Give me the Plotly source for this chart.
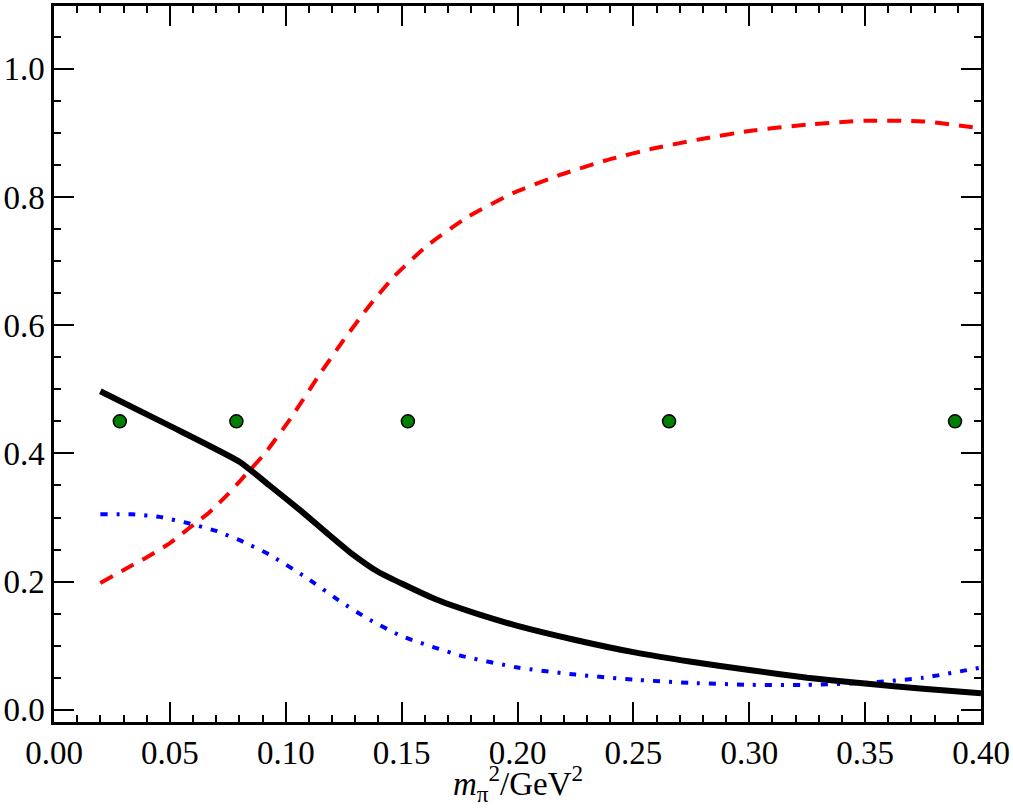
import plotly.graph_objects as go

x_black = [0.02, 0.05, 0.08, 0.093, 0.1067, 0.118, 0.128, 0.14, 0.15, 0.165, 0.184, 0.20, 0.225, 0.25, 0.275, 0.30, 0.325, 0.35, 0.375, 0.40]
y_black = [0.497, 0.443, 0.387, 0.35, 0.31, 0.275, 0.245, 0.215, 0.197, 0.172, 0.148, 0.131, 0.109, 0.09, 0.075, 0.062, 0.05, 0.041, 0.033, 0.026]

x_red = [0.02, 0.031, 0.041, 0.05, 0.0585, 0.0667, 0.075, 0.081, 0.091, 0.102, 0.114, 0.125, 0.136, 0.147, 0.161, 0.179, 0.198, 0.218, 0.239, 0.259, 0.28, 0.30, 0.325, 0.35, 0.375, 0.40]
y_red = [0.198, 0.22, 0.24, 0.26, 0.284, 0.307, 0.336, 0.36, 0.40, 0.454, 0.52, 0.577, 0.63, 0.677, 0.724, 0.77, 0.806, 0.834, 0.858, 0.876, 0.891, 0.903, 0.913, 0.919, 0.918, 0.907]

x_blue = [0.02, 0.0335, 0.0456, 0.058, 0.07, 0.0817, 0.093, 0.109, 0.124, 0.135, 0.15, 0.175, 0.20, 0.225, 0.25, 0.275, 0.30, 0.325, 0.35, 0.375, 0.40]
y_blue = [0.305, 0.305, 0.301, 0.291, 0.279, 0.262, 0.242, 0.206, 0.168, 0.143, 0.115, 0.085, 0.066, 0.055, 0.047, 0.042, 0.039, 0.039, 0.042, 0.05, 0.066]

x_pts = [0.0284, 0.0787, 0.1527, 0.2654, 0.3888]
y_pts = [0.45, 0.45, 0.45, 0.45, 0.45]

x_title = "<i>m</i><sub>π</sub><sup>2</sup>/GeV<sup>2</sup>"

fig = go.Figure()
fig.add_trace(go.Scatter(x=x_red, y=y_red, mode="lines", line=dict(color="#ff0000", width=4, dash="14px,10px", shape="spline", smoothing=0.5), showlegend=False))
fig.add_trace(go.Scatter(x=x_blue, y=y_blue, mode="lines", line=dict(color="#0000ff", width=4, dash="7px,9px,3px,9px", shape="spline", smoothing=0.5), showlegend=False))
fig.add_trace(go.Scatter(x=x_black, y=y_black, mode="lines", line=dict(color="black", width=6, shape="spline", smoothing=0.5), showlegend=False))
fig.add_trace(go.Scatter(x=x_pts, y=y_pts, mode="markers", marker=dict(color="#008000", size=13, line=dict(color="black", width=1.5)), showlegend=False))

font = dict(family="Liberation Serif, DejaVu Serif, serif", size=33, color="black")
title_font = dict(family="Liberation Serif, DejaVu Serif, serif", size=33, color="black")
axis_common = dict(showgrid=False, zeroline=False, showline=True, linecolor="black", linewidth=2.5,
                   mirror="allticks", ticks="inside", tickcolor="black", tickwidth=2, ticklen=20,
                   tickfont=font)
fig.update_xaxes(range=[0, 0.40], dtick=0.05, tick0=0, tickformat=".2f",
                 minor=dict(dtick=0.01, ticklen=7, tickwidth=2, tickcolor="black", ticks="inside"),
                 **axis_common)
fig.update_yaxes(range=[-0.019, 1.098], dtick=0.2, tick0=0, tickformat=".1f",
                 minor=dict(dtick=0.05, ticklen=7, tickwidth=2, tickcolor="black", ticks="inside"),
                 **axis_common)
fig.add_annotation(text=x_title, xref="paper", yref="paper", x=0.5, y=-87 / 719, xanchor="center",
                   yanchor="bottom", showarrow=False, font=title_font)
fig.update_layout(width=1013, height=811, margin=dict(l=52, r=31, t=3, b=89),
                  plot_bgcolor="white", paper_bgcolor="white", font=font)
fig.write_html("out.html")
